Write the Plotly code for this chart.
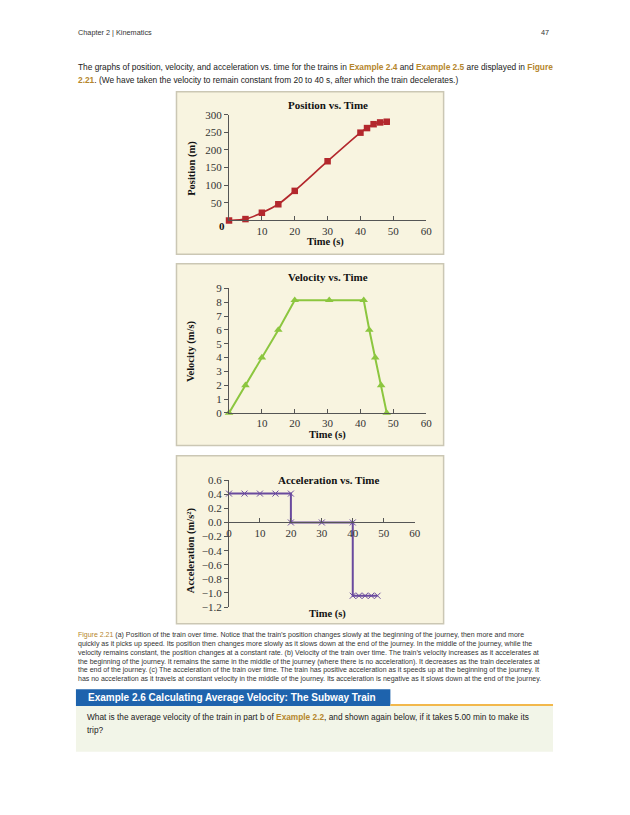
import plotly.graph_objects as go

# ---------------- data ----------------
pos_t = [0, 5, 10, 15, 20, 30, 40, 42, 44, 46, 48]
pos_x = [0, 4, 22, 46, 84, 168, 249, 262, 273, 278, 280]

vel_t = [0, 5, 10, 15, 20, 30.5, 41, 42.7, 44.5, 46.3, 48]
vel_v = [0, 2, 4, 6, 8.15, 8.15, 8.15, 6, 4, 2, 0]

acc_t = [0, 5, 10, 15, 20, 20, 30, 40, 40, 42, 44, 46, 48]
acc_a = [0.41, 0.41, 0.41, 0.41, 0.41, 0, 0, 0, -1.04, -1.04, -1.04, -1.04, -1.04]

time_ticks = [10, 20, 30, 40, 50, 60]
acc_time_ticks = [0, 10, 20, 30, 40, 50, 60]
pos_ticks = [50, 100, 150, 200, 250, 300]
vel_ticks = [0, 1, 2, 3, 4, 5, 6, 7, 8, 9]
acc_ticks = [0.6, 0.4, 0.2, 0.0, -0.2, -0.4, -0.6, -0.8, -1.0, -1.2]
acc_tick_text = ["0.6", "0.4", "0.2", "0.0", "\u22120.2", "\u22120.4", "\u22120.6",
                 "\u22120.8", "\u22121.0", "\u22121.2"]

W, H = 630, 815
def px(x):
    return x / W
def py(y):
    return 1 - y / H

SERIF = "Liberation Serif"
SANS = "Liberation Sans"
GOLD = "#b5862c"
AXC = "#555555"
RED = "#b3282d"
GREEN = "#8cc63f"
PURPLE = "#6a4a9e"

fig = go.Figure()

fig.add_trace(go.Scatter(x=pos_t, y=pos_x, mode="lines+markers", xaxis="x", yaxis="y",
                         line=dict(color=RED, width=1.7, shape="spline", smoothing=0.6),
                         marker=dict(symbol="square", size=6.5, color=RED),
                         cliponaxis=False, showlegend=False))
fig.add_trace(go.Scatter(x=vel_t, y=vel_v, mode="lines+markers", xaxis="x2", yaxis="y2",
                         line=dict(color=GREEN, width=2),
                         marker=dict(symbol="triangle-up", size=7.5, color=GREEN),
                         cliponaxis=False, showlegend=False))
fig.add_trace(go.Scatter(x=acc_t, y=acc_a, mode="lines+markers", xaxis="x3", yaxis="y3",
                         line=dict(color=PURPLE, width=2),
                         marker=dict(symbol="x-thin", size=6, color=PURPLE,
                                     line=dict(color=PURPLE, width=1)),
                         cliponaxis=False, showlegend=False))

tickfont = dict(family=SERIF, size=11, color="#333333")

def xax(domain, anchor, tickvals, **kw):
    d = dict(domain=domain, anchor=anchor, range=[0, 60], tickvals=tickvals,
             showline=True, linecolor=AXC, linewidth=1, showgrid=False, zeroline=False,
             ticks="inside", ticklen=4, tickcolor=AXC, tickfont=tickfont, fixedrange=True)
    d.update(kw)
    return d

def yax(domain, anchor, rng, tickvals, **kw):
    d = dict(domain=domain, anchor=anchor, range=rng, tickvals=tickvals,
             showline=True, linecolor=AXC, linewidth=1, showgrid=False, zeroline=False,
             ticks="outside", ticklen=4, tickcolor=AXC, tickfont=tickfont, fixedrange=True)
    d.update(kw)
    return d

xd1 = [px(229.3), px(429.3)]
xd3 = [px(229.3), px(417.6)]
yd1 = [py(217.7), py(110.3)]
yd2 = [py(413.0), py(286.7)]
yd3 = [py(610.0), py(481.3)]
acc_rng = [-1.2, 0.6]
x3pos = yd3[0] + (0 - acc_rng[0]) / (acc_rng[1] - acc_rng[0]) * (yd3[1] - yd3[0])

fig.update_layout(
    width=W, height=H, autosize=False,
    margin=dict(l=0, r=0, t=0, b=0),
    paper_bgcolor="white", plot_bgcolor="rgba(0,0,0,0)",
    xaxis=xax(xd1, "y", time_ticks),
    yaxis=yax(yd1, "x", [0, 300], pos_ticks),
    xaxis2=xax(xd1, "y2", time_ticks),
    yaxis2=yax(yd2, "x2", [0, 9], vel_ticks),
    xaxis3=xax(xd3, "free", acc_time_ticks, position=x3pos, ticklabelstandoff=0),
    yaxis3=yax(yd3, "x3", acc_rng, acc_ticks, ticktext=acc_tick_text),
)

shapes = []
PANEL_FILL = "#f8f4e0"
PANEL_LINE = "#cbc7b4"
for (x0, y0, x1, y1) in [(176, 87, 447, 252), (176, 261.5, 447, 446), (176, 456.5, 447, 627)]:
    shapes.append(dict(type="rect", xref="paper", yref="paper", x0=px(x0), x1=px(x1),
                       y0=py(y1), y1=py(y0), fillcolor=PANEL_FILL,
                       line=dict(color=PANEL_LINE, width=1.5), layer="below"))
# example box
shapes.append(dict(type="rect", xref="paper", yref="paper", x0=px(74), x1=px(558),
                   y0=py(757), y1=py(710), fillcolor="#f2f5e8", line=dict(width=0), layer="below"))
shapes.append(dict(type="rect", xref="paper", yref="paper", x0=px(74), x1=px(393),
                   y0=py(710.5), y1=py(693.5), fillcolor="#1e63ad", line=dict(width=0), layer="below"))
shapes.append(dict(type="line", xref="paper", yref="paper", x0=px(393), x1=px(558),
                   y0=py(709.5), y1=py(709.5), line=dict(color="#f2b84b", width=2), layer="below"))
fig.update_layout(shapes=shapes)

ann = []
def text(x, y, s, size, family=SANS, color="#222222", xanchor="left", bold=False, angle=0):
    if bold:
        s = "<b>" + s + "</b>"
    ann.append(dict(x=px(x), y=py(y), xref="paper", yref="paper", text=s, showarrow=False,
                    xanchor=xanchor, yanchor="middle", textangle=angle,
                    font=dict(family=family, size=size, color=color)))

def g(s, bold=True):
    if bold:
        return '<span style="color:%s"><b>%s</b></span>' % (GOLD, s)
    return '<span style="color:%s">%s</span>' % (GOLD, s)

# header
text(74, 27, "Chapter 2 | Kinematics", 7.3, color="#333333")
text(556, 27, "47", 7.3, color="#333333", xanchor="right")
# paragraph
text(74, 62, "The graphs of position, velocity, and acceleration vs. time for the trains in "
     + g("Example 2.4") + " and " + g("Example 2.5") + " are displayed in " + g("Figure"), 8.35)
text(74, 75, g("2.21") + ". (We have taken the velocity to remain constant from 20 to 40 s, "
     "after which the train decelerates.)", 8.35)

# chart titles
for (x, y, s) in [(330, 100, "Position vs. Time"), (330, 275.5, "Velocity vs. Time"),
                  (330, 481, "Acceleration vs. Time")]:
    text(x, y, s, 11, family=SERIF, color="#111111", xanchor="center", bold=True)
for (x, y, s) in [(191, 165, "Position (m)"), (191, 350, "Velocity (m/s)"),
                  (191, 552, "Acceleration (m/s\u00b2)")]:
    text(x, y, s, 10.5, family=SERIF, color="#111111", xanchor="center", bold=True, angle=-90)
for (x, y) in [(327, 240), (329, 435.5), (329, 617)]:
    text(x, y, "Time (s)", 10.5, family=SERIF, color="#111111", xanchor="center", bold=True)
text(222, 223, "0", 11, family=SERIF, color="#111111", xanchor="center", bold=True)

# caption
cap = [
    g("Figure 2.21", bold=False) + " (a) Position of the train over time. Notice that the train\u2019s position changes slowly at the beginning of the journey, then more and more",
    "quickly as it picks up speed. Its position then changes more slowly as it slows down at the end of the journey. In the middle of the journey, while the",
    "velocity remains constant, the position changes at a constant rate. (b) Velocity of the train over time. The train\u2019s velocity increases as it accelerates at",
    "the beginning of the journey. It remains the same in the middle of the journey (where there is no acceleration). It decreases as the train decelerates at",
    "the end of the journey. (c) The acceleration of the train over time. The train has positive acceleration as it speeds up at the beginning of the journey. It",
    "has no acceleration as it travels at constant velocity in the middle of the journey. Its acceleration is negative as it slows down at the end of the journey.",
]
for i, line in enumerate(cap):
    text(74, 638 + i * 9.1, line, 7.0, color="#333333")

# example box
text(84, 702, "Example 2.6 Calculating Average Velocity: The Subway Train", 10, color="white", bold=True)
text(83, 722, "What is the average velocity of the train in part b of " + g("Example 2.2")
     + ", and shown again below, if it takes 5.00 min to make its", 8.3)
text(83, 735, "trip?", 8.3)

fig.update_layout(annotations=ann)
fig.write_html("out.html", config={"displayModeBar": False},
               post_script="document.body.style.margin='0';document.body.style.padding='0';")
